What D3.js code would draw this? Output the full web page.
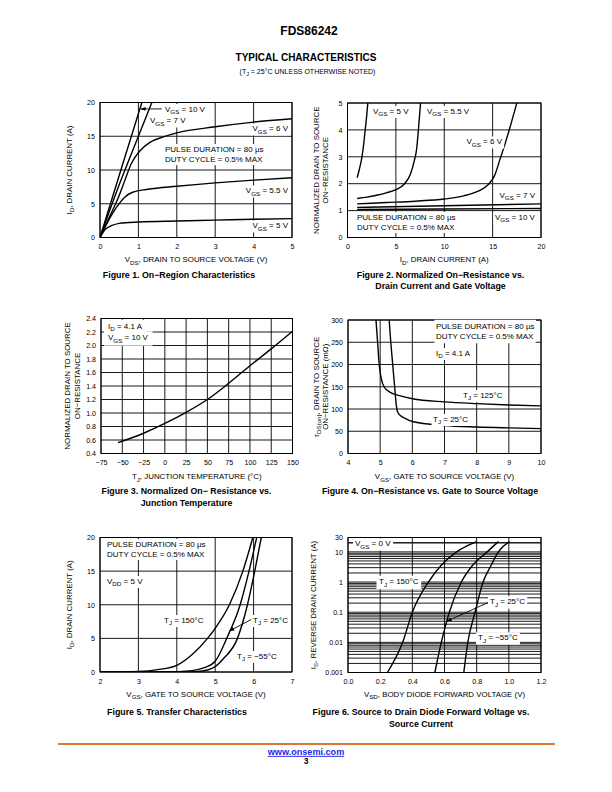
<!DOCTYPE html>
<html><head><meta charset="utf-8">
<script src="https://cdn.jsdelivr.net/npm/d3@7"></script>
<style>html,body{margin:0;padding:0;background:#fff;} svg{display:block;}</style>
</head><body>
<svg id="page" width="612" height="792"></svg>
<script>
// ---------------- DATA ----------------
// Figure 1: On-Region Characteristics  [VDS (V), ID (A)]
const fig1Vgs10 = [[0,0],[0.55,10.1],[1.09,20]];
const fig1Vgs7  = [[0,0],[0.5,7.8],[1.0,15.0],[1.35,20]];
const fig1Vgs6  = [[0,0],[0.25,3.1],[0.47,5.8],[0.65,8.5],[0.81,10.9],[1.05,12.9],[1.3,14.1],[1.65,14.9],[2.0,15.5],[3.0,16.4],[4.0,17.1],[5.0,17.6]];
const fig1Vgs55 = [[0,0],[0.21,2.4],[0.47,4.8],[0.65,6.0],[0.85,6.7],[1.25,7.15],[2.0,7.6],[3.0,8.1],[4.0,8.5],[5.0,8.85]];
const fig1Vgs5  = [[0,0],[0.12,1.1],[0.3,1.75],[0.5,2.1],[1.0,2.3],[2.0,2.45],[3.0,2.57],[4.0,2.7],[5.0,2.8]];
const fig1XTicks = [0,1,2,3,4,5];
const fig1YTicks = [0,5,10,15,20];

// Figure 2: Normalized On-Resistance vs Drain Current  [ID (A), R norm]
const fig2Vgs5  = [[1.0,2.22],[1.2,2.5],[1.45,2.9],[1.65,3.4],[1.8,3.9],[1.95,4.4],[2.1,5.0]];
const fig2Vgs55 = [[1.0,1.45],[2,1.5],[3,1.57],[4,1.66],[5,1.78],[5.9,2.0],[6.5,2.35],[6.9,2.85],[7.15,3.3],[7.35,4.1],[7.55,5.0]];
const fig2Vgs6  = [[1,1.25],[4,1.3],[7,1.35],[10,1.43],[12,1.55],[13.5,1.72],[14.5,1.95],[15.2,2.3],[15.8,2.95],[16.3,3.5],[16.8,4.1],[17.5,5.0]];
const fig2Vgs7  = [[1,1.12],[10,1.18],[20,1.25]];
const fig2Vgs10 = [[1,1.04],[10,1.06],[20,1.08]];
const fig2XTicks = [0,5,10,15,20];
const fig2YTicks = [0,1,2,3,4,5];

// Figure 3: Normalized On-Resistance vs Junction Temperature [TJ (C), R norm]
const fig3Curve = [[-55,0.56],[-25,0.70],[0,0.845],[25,1.01],[50,1.20],[75,1.44],[100,1.70],[125,1.95],[150,2.21]];
const fig3XTicks = [-75,-50,-25,0,25,50,75,100,125,150];
const fig3YTicks = [0.4,0.6,0.8,1.0,1.2,1.4,1.6,1.8,2.0,2.2,2.4];

// Figure 4: On-Resistance vs Gate to Source Voltage [VGS (V), rDS(on) (mOhm)]
const fig4Tj125 = [[4.87,300],[4.92,250],[4.97,200],[5.03,170],[5.12,150],[5.3,138],[5.6,130],[6,123],[7,116],[8,112],[9,109],[10,107]];
const fig4Tj25  = [[5.28,300],[5.33,250],[5.39,200],[5.45,150],[5.5,110],[5.55,92],[5.65,84],[5.8,78],[6,72],[7,63],[8,59.5],[9,57.5],[10,56]];
const fig4XTicks = [4,5,6,7,8,9,10];
const fig4YTicks = [0,50,100,150,200,250,300];

// Figure 5: Transfer Characteristics [VGS (V), ID (A)]
const fig5Tj150 = [[2.0,0],[2.5,0.02],[3.0,0.08],[3.5,0.35],[4.0,1.0],[4.4,2.6],[4.8,5.0],[5.0,6.5],[5.37,10],[5.72,15],[5.98,20]];
const fig5Tj25  = [[2.0,0],[3.5,0],[4.0,0.05],[4.4,0.2],[4.7,0.6],[5.0,1.6],[5.3,5],[5.65,10],[5.88,15],[6.08,20]];
const fig5TjM55 = [[2.0,0],[4.2,0],[4.5,0.05],[4.8,0.3],[5.0,0.8],[5.2,1.9],[5.58,5],[5.84,10],[6.03,15],[6.2,20]];
const fig5XTicks = [2,3,4,5,6,7];
const fig5YTicks = [0,5,10,15,20];

// Figure 6: Source to Drain Diode Forward Voltage [VSD (V), IS (A)]
const fig6Tj150 = [[0.245,0.001],[0.34,0.01],[0.40,0.1],[0.50,1],[0.58,3.6],[0.675,10],[0.80,22]];
const fig6Tj25  = [[0.54,0.001],[0.58,0.01],[0.63,0.1],[0.705,1],[0.775,3.6],[0.865,10],[0.935,22]];
const fig6TjM55 = [[0.72,0.001],[0.745,0.01],[0.79,0.1],[0.84,1],[0.89,3.6],[0.935,10],[1.005,22]];
const fig6XTicks = [0,0.2,0.4,0.6,0.8,1.0,1.2];
const fig6YTicks = [0.001,0.01,0.1,1,10,30];
const fig6YLabels = ["0.001","0.01","0.1","1","10","30"];

// ---------------- DRAWING ----------------
const FONT = "'Liberation Sans', Arial, Helvetica, sans-serif";
const NOTE = 8, TICK = 7.1, TITLE = 7.9;
const svg = d3.select('#page');
const defs = svg.append('defs');
defs.append('marker').attr('id','arr').attr('viewBox','0 0 10 10').attr('refX',9).attr('refY',5)
  .attr('markerWidth',6).attr('markerHeight',6).attr('orient','auto')
  .append('path').attr('d','M0,1.5 L10,5 L0,8.5 z').attr('fill','#000');

function rich(sel, str, size) {
  const parts = str.split(/(_\{[^}]*\})/).filter(p => p.length);
  let shifted = false;
  parts.forEach(p => {
    if (p.startsWith('_{')) {
      sel.append('tspan').attr('dy', size*0.3).attr('font-size', size*0.78).text(p.slice(2,-1));
      shifted = true;
    } else {
      const t = sel.append('tspan').text(p);
      if (shifted) { t.attr('dy', -size*0.3); shifted = false; }
    }
  });
  return sel;
}

function text(parent, x, y, str, o = {}) {
  const size = o.size || NOTE;
  const t = parent.append('text').attr('x', x).attr('y', y + size*0.35)
    .attr('font-family', FONT).attr('font-size', size).attr('fill', o.fill || '#000')
    .attr('text-anchor', o.anchor || 'start');
  if (o.bold) t.attr('font-weight', 'bold');
  rich(t, str, size);
  return t;
}

function note(parent, x, y, str, o = {}) {
  const g = parent.append('g');
  const r = g.append('rect').attr('fill', '#fff');
  const t = text(g, x, y, str, o);
  const b = t.node().getBBox();
  const px = o.padX !== undefined ? o.padX : 1.5, py = o.padY !== undefined ? o.padY : 0.8;
  r.attr('x', b.x - px).attr('y', b.y - py).attr('width', b.width + 2*px).attr('height', b.height + 2*py);
  return g;
}

function ytitle(x, y, str, size) {
  const t = svg.append('text').attr('transform', `translate(${x},${y}) rotate(-90)`)
    .attr('font-family', FONT).attr('font-size', size).attr('fill', '#000')
    .attr('text-anchor', 'middle').attr('dy', size*0.35);
  rich(t, str, size);
}

function drawChart(c) {
  const g = svg.append('g');
  const xs = d3.scaleLinear().domain(c.xDomain).range([c.left, c.right]);
  const ys = (c.yLog ? d3.scaleLog() : d3.scaleLinear()).domain(c.yDomain).range([c.bottom, c.top]);
  g.append('g').selectAll('line').data(c.xGrid).join('line')
    .attr('x1', d => xs(d)).attr('x2', d => xs(d)).attr('y1', c.top).attr('y2', c.bottom)
    .attr('stroke', '#000').attr('stroke-width', 0.9);
  g.append('g').selectAll('line').data(c.yGrid).join('line')
    .attr('y1', d => ys(d)).attr('y2', d => ys(d)).attr('x1', c.left).attr('x2', c.right)
    .attr('stroke', '#000').attr('stroke-width', 0.9);
  g.append('rect').attr('x', c.left).attr('y', c.top).attr('width', c.right - c.left)
    .attr('height', c.bottom - c.top).attr('fill', 'none').attr('stroke', '#000').attr('stroke-width', 1);

  const ax = g.append('g').attr('transform', `translate(0,${c.bottom})`)
    .call(d3.axisBottom(xs).tickValues(c.xTicks).tickFormat(c.xFmt).tickSize(0).tickPadding(6.5));
  ax.select('.domain').remove();
  ax.selectAll('text').attr('font-family', FONT).attr('font-size', TICK).attr('fill', '#000');
  const ay = g.append('g').attr('transform', `translate(${c.left},0)`)
    .call(d3.axisLeft(ys).tickValues(c.yTicks).tickFormat(c.yFmt).tickSize(0).tickPadding(5));
  ay.select('.domain').remove();
  ay.selectAll('text').attr('font-family', FONT).attr('font-size', TICK).attr('fill', '#000');

  const clipId = 'clip' + c.id;
  defs.append('clipPath').attr('id', clipId).append('rect')
    .attr('x', c.left).attr('y', c.top).attr('width', c.right - c.left).attr('height', c.bottom - c.top);
  const line = d3.line().x(d => xs(d[0])).y(d => ys(d[1])).curve(d3.curveMonotoneX);
  c.series.forEach(s => {
    g.append('path').attr('d', line(s)).attr('fill', 'none').attr('stroke', '#000')
      .attr('stroke-width', 1.4).attr('stroke-linejoin', 'round').attr('clip-path', `url(#${clipId})`);
  });
  (c.notes || []).forEach(n => note(g, n[0], n[1], n[2], n[3] || {}));
  (c.arrows || []).forEach(a => {
    g.append('line').attr('x1', xs(a[0][0])).attr('y1', ys(a[0][1])).attr('x2', xs(a[1][0])).attr('y2', ys(a[1][1]))
      .attr('stroke', '#000').attr('stroke-width', 0.9).attr('marker-end', 'url(#arr)');
  });

  text(svg, (c.left + c.right)/2, c.xTitleY, c.xTitle, { anchor: 'middle', size: TITLE });
  c.yTitles.forEach(t => ytitle(t[0], (c.top + c.bottom)/2, t[1], TITLE));
  c.caption.forEach(t => text(svg, t[0], t[1], t[2], { anchor: 'middle', size: 8.8, bold: true }));
  return { xs, ys };
}

const fmtMinus = d => (d < 0 ? '\u2212' + Math.abs(d) : String(d));

// Header
text(svg, 309, 30.7, 'FDS86242', { anchor: 'middle', size: 12, bold: true });
text(svg, 306, 57.7, 'TYPICAL CHARACTERISTICS', { anchor: 'middle', size: 10, bold: true });
text(svg, 307.5, 71.5, '(T_{J} = 25\u00B0C UNLESS OTHERWISE NOTED)', { anchor: 'middle', size: 7 });

// Figure 1
drawChart({
  id: 1, left: 100, right: 292, top: 102.5, bottom: 237.5,
  xDomain: [0,5], yDomain: [0,20], xGrid: fig1XTicks, yGrid: fig1YTicks,
  xTicks: fig1XTicks, yTicks: fig1YTicks, xFmt: d => d, yFmt: d => d,
  series: [fig1Vgs10, fig1Vgs7, fig1Vgs6, fig1Vgs55, fig1Vgs5],
  arrows: [[[1.61,19.05],[1.06,19.05]]],
  notes: [
    [165,109,'V_{GS} = 10 V'], [150,120.5,'V_{GS} = 7 V'],
    [288,128.5,'V_{GS} = 6 V',{anchor:'end'}],
    [165,149,'PULSE DURATION = 80 \u00B5s'], [165,159.5,'DUTY CYCLE = 0.5% MAX'],
    [288,190.5,'V_{GS} = 5.5 V',{anchor:'end'}], [288,225.5,'V_{GS} = 5 V',{anchor:'end'}]
  ],
  xTitleY: 259.5, xTitle: 'V_{DS}, DRAIN TO SOURCE VOLTAGE (V)',
  yTitles: [[69,'I_{D}, DRAIN CURRENT (A)']],
  caption: [[179,274.5,'Figure 1. On\u2212Region Characteristics']]
});

// Figure 2
drawChart({
  id: 2, left: 347.5, right: 541, top: 103, bottom: 237.5,
  xDomain: [0,20], yDomain: [0,5], xGrid: fig2XTicks, yGrid: fig2YTicks,
  xTicks: fig2XTicks, yTicks: fig2YTicks, xFmt: d => d, yFmt: d => d,
  series: [fig2Vgs5, fig2Vgs55, fig2Vgs6, fig2Vgs7, fig2Vgs10],
  notes: [
    [373,111,'V_{GS} = 5 V'], [427,111,'V_{GS} = 5.5 V'], [466.5,141.5,'V_{GS} = 6 V'],
    [535,195,'V_{GS} = 7 V',{anchor:'end'}],
    [357,217,'PULSE DURATION = 80 \u00B5s'], [357,227.5,'DUTY CYCLE = 0.5% MAX'],
    [495,217,'V_{GS} = 10 V']
  ],
  xTitleY: 259.5, xTitle: 'I_{D}, DRAIN CURRENT (A)',
  yTitles: [[316,'NORMALIZED DRAIN TO SOURCE'],[325,'ON\u2212RESISTANCE']],
  caption: [[440.5,274.5,'Figure 2. Normalized On\u2212Resistance vs.'],[440.5,285.5,'Drain Current and Gate Voltage']]
});

// Figure 3
drawChart({
  id: 3, left: 101, right: 292.5, top: 318.5, bottom: 453.5,
  xDomain: [-75,150], yDomain: [0.4,2.4], xGrid: fig3XTicks, yGrid: fig3YTicks,
  xTicks: fig3XTicks, yTicks: fig3YTicks, xFmt: fmtMinus, yFmt: d3.format('.1f'),
  series: [fig3Curve],
  notes: [
    [108,326,'I_{D} = 4.1 A',{padX:4,padY:2}], [108,337.5,'V_{GS} = 10 V',{padX:4,padY:2}]
  ],
  xTitleY: 476.5, xTitle: 'T_{J}, JUNCTION TEMPERATURE (\u00B0C)',
  yTitles: [[67,'NORMALIZED DRAIN TO SOURCE'],[77,'ON\u2212RESISTANCE']],
  caption: [[186.5,491,'Figure 3. Normalized On\u2212 Resistance vs.'],[186.5,502.5,'Junction Temperature']]
});

// Figure 4
drawChart({
  id: 4, left: 348, right: 541, top: 320, bottom: 453.5,
  xDomain: [4,10], yDomain: [0,300], xGrid: fig4XTicks, yGrid: fig4YTicks,
  xTicks: fig4XTicks, yTicks: fig4YTicks, xFmt: d => d, yFmt: d => d,
  series: [fig4Tj125, fig4Tj25],
  notes: [
    [436,326,'PULSE DURATION = 80 \u00B5s',{padY:2}], [436,336.5,'DUTY CYCLE = 0.5% MAX',{padY:2}],
    [436,353,'I_{D} = 4.1 A'], [463,395,'T_{J} = 125\u00B0C'], [433,419,'T_{J} = 25\u00B0C']
  ],
  xTitleY: 476.5, xTitle: 'V_{GS}, GATE TO SOURCE VOLTAGE (V)',
  yTitles: [[316,'r_{DS(on)}, DRAIN TO SOURCE'],[325,'ON\u2212RESISTANCE (m\u03A9)']],
  caption: [[430,491,'Figure 4. On\u2212Resistance vs. Gate to Source Voltage']]
});

// Figure 5
drawChart({
  id: 5, left: 100, right: 292, top: 537.5, bottom: 672,
  xDomain: [2,7], yDomain: [0,20], xGrid: fig5XTicks, yGrid: fig5YTicks,
  xTicks: fig5XTicks, yTicks: fig5YTicks, xFmt: d => d, yFmt: d => d,
  series: [fig5Tj150, fig5Tj25, fig5TjM55],
  arrows: [[[5.94,7.8],[5.37,6.1]]],
  notes: [
    [107,544,'PULSE DURATION = 80 \u00B5s'], [107,554.5,'DUTY CYCLE = 0.5% MAX'],
    [107,581,'V_{DD} = 5 V'], [164,620,'T_{J} = 150\u00B0C'], [253,620,'T_{J} = 25\u00B0C'],
    [237,656,'T_{J} = \u221255\u00B0C']
  ],
  xTitleY: 694, xTitle: 'V_{GS}, GATE TO SOURCE VOLTAGE (V)',
  yTitles: [[69,'I_{D}, DRAIN CURRENT (A)']],
  caption: [[177,712,'Figure 5. Transfer Characteristics']]
});

// Figure 6
const fig6Grid = [];
[-3,-2,-1,0,1].forEach(e => d3.range(1,10).forEach(k => { const v = k*Math.pow(10,e); if (v <= 30) fig6Grid.push(v); }));
fig6Grid.push(20, 30);
drawChart({
  id: 6, left: 348, right: 541, top: 537.5, bottom: 672.5,
  xDomain: [0,1.2], yDomain: [0.001,30], yLog: true, xGrid: fig6XTicks, yGrid: fig6Grid,
  xTicks: fig6XTicks, yTicks: fig6YTicks, xFmt: d3.format('.1f'), yFmt: (d,i) => fig6YLabels[i],
  series: [fig6Tj150, fig6Tj25, fig6TjM55],
  arrows: [[[0.87,0.209],[0.615,0.05]]],
  notes: [
    [355,543.5,'V_{GS} = 0 V',{padX:2,padY:1}], [379,581.5,'T_{J} = 150\u00B0C',{padX:2.5,padY:1.5}],
    [490,601.5,'T_{J} = 25\u00B0C',{padX:2,padY:1}], [478,637.5,'T_{J} = \u221255\u00B0C',{padX:2,padY:1}]
  ],
  xTitleY: 694, xTitle: 'V_{SD}, BODY DIODE FORWARD VOLTAGE (V)',
  yTitles: [[313,'I_{S}, REVERSE DRAIN CURRENT (A)']],
  caption: [[421,712,'Figure 6. Source to Drain Diode Forward Voltage vs.'],[421,723.5,'Source Current']]
});

// Footer
svg.append('line').attr('x1', 58).attr('x2', 555).attr('y1', 744).attr('y2', 744)
  .attr('stroke', '#db7b33').attr('stroke-width', 2);
const link = text(svg, 306, 751.7, 'www.onsemi.com', { anchor: 'middle', size: 9.1, bold: true, fill: '#1f1fe6' });
link.attr('text-decoration', 'underline');
text(svg, 306, 761.5, '3', { anchor: 'middle', size: 8.5, bold: true });
</script>
</body></html>
